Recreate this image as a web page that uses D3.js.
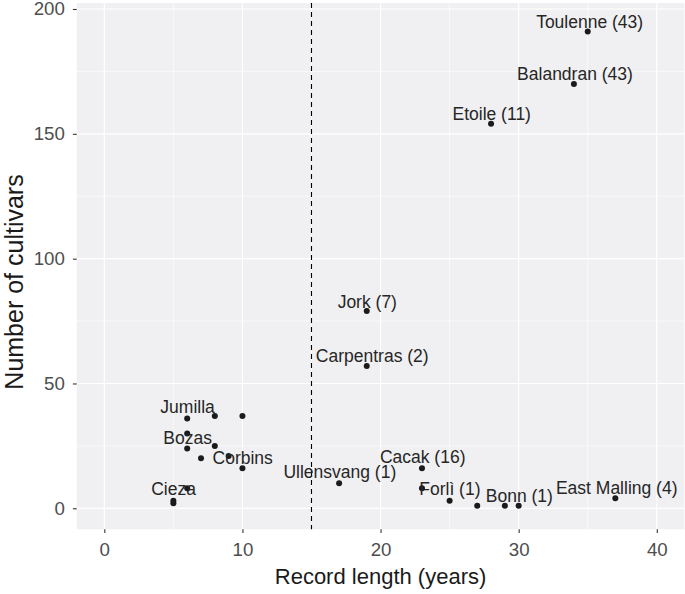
<!DOCTYPE html>
<html>
<head>
<meta charset="utf-8">
<script src="https://cdn.jsdelivr.net/npm/d3@7"></script>
<style>
  html, body { margin: 0; padding: 0; background: #ffffff; }
  svg { display: block; font-family: "Liberation Sans", Arial, Helvetica, sans-serif; }
</style>
</head>
<body>
<svg id="chart" width="685" height="594"></svg>
<script>
// ---- data ----
const recordLength = [35, 34, 28, 19, 19, 6, 8, 10, 6, 6, 8, 7, 9, 10, 6, 5, 5, 17, 23, 23, 25, 27, 29, 30, 37];
const numCultivars = [191, 170, 154, 79, 57, 36, 37, 37, 30, 24, 25, 20, 21, 16, 8, 3, 2, 10, 16, 8, 3, 1, 1, 1, 4];

const labelText = ["Toulenne (43)", "Balandran (43)", "Etoile (11)", "Jork (7)", "Carpentras (2)",
  "Jumilla", "Bozas", "Corbins", "Cieza", "Ullensvang (1)", "Cacak (16)", "Forlì (1)", "Bonn (1)", "East Malling (4)"];
const labelX = [35.14, 34.08, 28.05, 19.04, 19.4, 6.03, 6.03, 10.02, 5.01, 17.05, 23.05, 25.02, 30.05, 37.1];
const labelY = [195.1, 174.0, 158.0, 82.9, 61.1, 40.5, 28.4, 20.4, 7.7, 14.8, 20.7, 7.7, 5.0, 8.4];

const xTicks = [0, 10, 20, 30, 40];
const yTicks = [0, 50, 100, 150, 200];
const xMinor = [5, 15, 25, 35];
const yMinor = [25, 75, 125, 175];
const cutoffYears = 15;

const xDomain = [-2, 42];
const yDomain = [-8.41, 202.4];

// ---- layout ----
const panel = { left: 76.7, right: 684.4, top: 3, bottom: 529.3 };
const svg = d3.select("#chart");

const x = d3.scaleLinear().domain(xDomain).range([panel.left, panel.right]);
const y = d3.scaleLinear().domain(yDomain).range([panel.bottom, panel.top]);

// panel background
svg.append("rect")
  .attr("x", panel.left).attr("y", panel.top)
  .attr("width", panel.right - panel.left).attr("height", panel.bottom - panel.top)
  .attr("fill", "#f0f0f2");

const grid = svg.append("g");
// minor grid
grid.selectAll(".vmin").data(xMinor).enter().append("line")
  .attr("x1", d => x(d)).attr("x2", d => x(d))
  .attr("y1", panel.top).attr("y2", panel.bottom)
  .attr("stroke", "#ffffff").attr("stroke-width", 0.6);
grid.selectAll(".hmin").data(yMinor).enter().append("line")
  .attr("y1", d => y(d)).attr("y2", d => y(d))
  .attr("x1", panel.left).attr("x2", panel.right)
  .attr("stroke", "#ffffff").attr("stroke-width", 0.6);
// major grid
grid.selectAll(".vmaj").data(xTicks).enter().append("line")
  .attr("x1", d => x(d)).attr("x2", d => x(d))
  .attr("y1", panel.top).attr("y2", panel.bottom)
  .attr("stroke", "#ffffff").attr("stroke-width", 1.2);
grid.selectAll(".hmaj").data(yTicks).enter().append("line")
  .attr("y1", d => y(d)).attr("y2", d => y(d))
  .attr("x1", panel.left).attr("x2", panel.right)
  .attr("stroke", "#ffffff").attr("stroke-width", 1.2);

// axes
const xAxis = d3.axisBottom(x).tickValues(xTicks).tickSize(3.8).tickPadding(9.5).tickFormat(d3.format("d"));
const yAxis = d3.axisLeft(y).tickValues(yTicks).tickSize(3.8).tickPadding(8).tickFormat(d3.format("d"));

const gx = svg.append("g").attr("transform", `translate(0,${panel.bottom})`).call(xAxis);
const gy = svg.append("g").attr("transform", `translate(${panel.left},0)`).call(yAxis);
[gx, gy].forEach(g => {
  g.select(".domain").remove();
  g.selectAll(".tick line").attr("stroke", "#333333").attr("stroke-width", 1.1);
  g.selectAll(".tick text").attr("fill", "#4d4d4d").style("font-size", "18.7px")
    .style("font-family", '"Liberation Sans", Arial, sans-serif');
});
gx.selectAll(".tick text").attr("dy", "0.71em");

// axis titles
svg.append("text")
  .attr("x", (panel.left + panel.right) / 2).attr("y", 584)
  .attr("text-anchor", "middle").attr("fill", "#1a1a1a")
  .style("font-size", "22px")
  .text("Record length (years)");
svg.append("text")
  .attr("transform", "translate(23,282) rotate(-90)")
  .attr("text-anchor", "middle").attr("fill", "#1a1a1a")
  .style("font-size", "25px")
  .text("Number of cultivars");

// cutoff dashed line
svg.append("line")
  .attr("x1", x(cutoffYears)).attr("x2", x(cutoffYears))
  .attr("y1", panel.top).attr("y2", panel.bottom)
  .attr("stroke", "#000000").attr("stroke-width", 1.1)
  .attr("stroke-dasharray", "5,4");

// points
const pts = recordLength.map((v, i) => ({ x: v, y: numCultivars[i] }));
svg.append("g").selectAll("circle").data(pts).enter().append("circle")
  .attr("cx", d => x(d.x)).attr("cy", d => y(d.y))
  .attr("r", 3).attr("fill", "#1a1a1a");

// labels
const labs = labelText.map((t, i) => ({ t, x: labelX[i], y: labelY[i] }));
svg.append("g").selectAll("text").data(labs).enter().append("text")
  .attr("x", d => x(d.x)).attr("y", d => y(d.y))
  .attr("dy", "0.36em")
  .attr("text-anchor", "middle").attr("fill", "#262626")
  .style("font-size", "17.5px")
  .text(d => d.t);
</script>
</body>
</html>
